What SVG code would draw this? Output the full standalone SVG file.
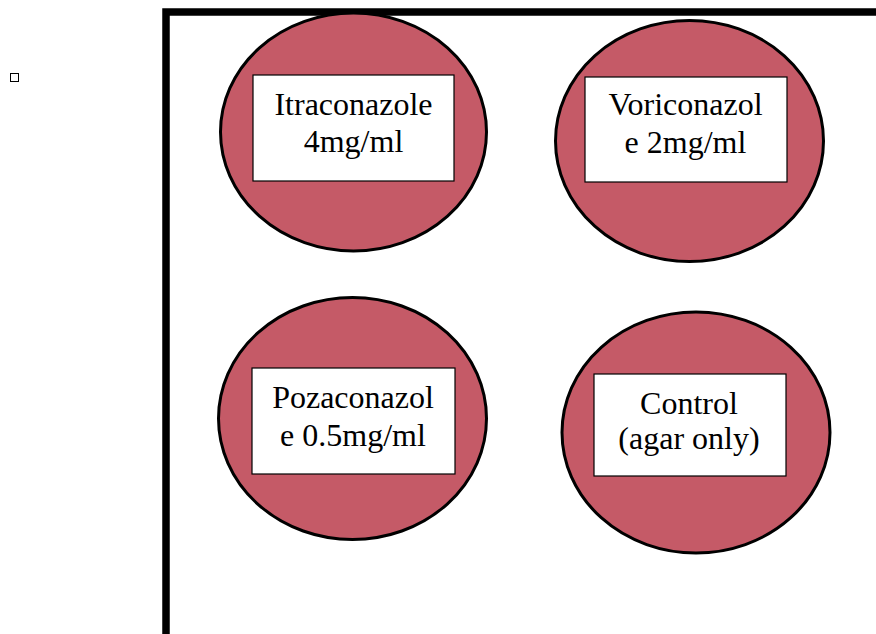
<svg xmlns="http://www.w3.org/2000/svg" width="876" height="634" viewBox="0 0 876 634">
<style>
.dish{fill:#C55A67;stroke:#000;stroke-width:3}
.lbl{fill:#fff;stroke:#000;stroke-width:1.2}
.t{font-family:"Liberation Serif","Times New Roman",serif;font-size:32px;fill:#000;text-anchor:middle}
</style>
<rect x="0" y="0" width="876" height="634" fill="#fff"/>
<rect x="10.5" y="73.5" width="8" height="8" fill="none" stroke="#000" stroke-width="1"/>
<path d="M166 634 V12 H876" fill="none" stroke="#000" stroke-width="7.5"/>
<g id="itraconazole">
<ellipse class="dish" cx="353.5" cy="132" rx="133" ry="119"/>
<rect class="lbl" x="253" y="75" width="201" height="106"/>
<text class="t" x="353.5" y="115">Itraconazole</text>
<text class="t" x="353.5" y="152">4mg/ml</text>
</g>
<g id="voriconazole">
<ellipse class="dish" cx="689.5" cy="141" rx="134" ry="120.5"/>
<rect class="lbl" x="585" y="77" width="202" height="105"/>
<text class="t" x="685.5" y="115">Voriconazol</text>
<text class="t" x="685.5" y="153">e 2mg/ml</text>
</g>
<g id="pozaconazole">
<ellipse class="dish" cx="352.5" cy="418.5" rx="134" ry="121"/>
<rect class="lbl" x="252" y="368" width="203" height="106"/>
<text class="t" x="353" y="408">Pozaconazol</text>
<text class="t" x="353" y="446">e 0.5mg/ml</text>
</g>
<g id="control">
<ellipse class="dish" cx="696" cy="432.5" rx="134" ry="120.5"/>
<rect class="lbl" x="594" y="374" width="192" height="102"/>
<text class="t" x="689" y="414">Control</text>
<text class="t" x="689" y="449">(agar only)</text>
</g>
<g id="connectors"></g>
</svg>
